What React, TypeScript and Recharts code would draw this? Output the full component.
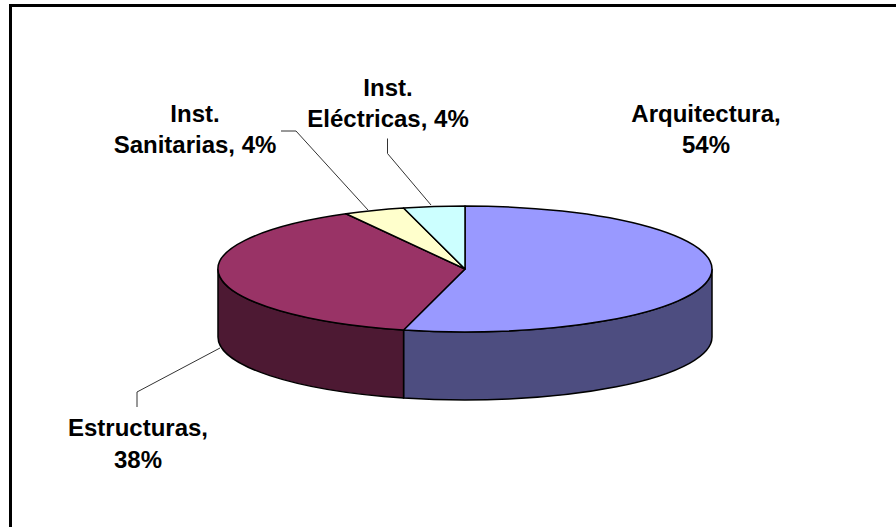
import React from "react";
import { PieChart, Pie, Cell } from "recharts";

const categories = ["Arquitectura", "Estructuras", "Inst. Sanitarias", "Inst. Eléctricas"];
const shares = [54, 38, 4, 4];
const topColors = ["#9999FF", "#993366", "#FFFFCC", "#CCFFFF"];
const sideColors = ["#4D4D80", "#4D1933", "#808066", "#668080"];

const chartData = categories.map((name, i) => ({ name, value: shares[i] }));

// the disc is a circle in Recharts terms, squashed here into an ellipse
const TILT = 63 / 247;
const DEPTH = 68;
const RAD = Math.PI / 180;

const LABEL_FONT = "'Liberation Sans', Arial, sans-serif";

// text lines and leader elbows for each slice
const labelLayout = [
  { x: 706, y: [122, 153], lines: ["Arquitectura,", "54%"], leader: null },
  { x: 138, y: [436, 468], lines: ["Estructuras,", "38%"], leader: "M220 348 L137 392 L137 407" },
  { x: 195, y: [122, 153], lines: ["Inst.", "Sanitarias, 4%"], leader: "M368 210 L296 131 L281 131" },
  { x: 388, y: [96, 127], lines: ["Inst.", "Eléctricas, 4%"], leader: "M431 205 L387.5 153.5 L387.5 138.5" },
];

function Slice3D(props: any) {
  const { cx, cy, outerRadius: r, startAngle, endAngle, fill, index } = props;
  const ry = r * TILT;
  const px = (a: number) => cx + r * Math.cos(a * RAD);
  const py = (a: number) => cy - ry * Math.sin(a * RAD);
  const sweep = Math.abs(endAngle - startAngle);
  const large = sweep > 180 ? 1 : 0;

  // the wall only shows along the front half, angles 180..360 in math terms
  const lo = Math.min(startAngle, endAngle);
  const hi = Math.max(startAngle, endAngle);
  const wallFrom = Math.max(lo, -180);
  const wallTo = Math.min(hi, 0);
  const wall =
    wallTo > wallFrom
      ? `M${px(wallFrom)} ${py(wallFrom)} A${r} ${ry} 0 0 0 ${px(wallTo)} ${py(wallTo)} ` +
        `L${px(wallTo)} ${py(wallTo) + DEPTH} A${r} ${ry} 0 0 1 ${px(wallFrom)} ${py(wallFrom) + DEPTH} Z`
      : null;

  const top =
    `M${cx} ${cy} L${px(startAngle)} ${py(startAngle)} ` +
    `A${r} ${ry} 0 ${large} 1 ${px(endAngle)} ${py(endAngle)} Z`;

  return (
    <g>
      {wall && <path d={wall} fill={sideColors[index]} stroke="#000" strokeWidth={1.5} />}
      <path d={top} fill={fill} stroke="#000" strokeWidth={1.5} strokeLinejoin="round" />
    </g>
  );
}

function SliceLabel({ index }: any) {
  const item = labelLayout[index];
  return (
    <g>
      {item.lines.map((line, i) => (
        <text
          key={line}
          x={item.x}
          y={item.y[i]}
          textAnchor="middle"
          fontFamily={LABEL_FONT}
          fontWeight={700}
          fontSize={24}
          fill="#000"
        >
          {line}
        </text>
      ))}
    </g>
  );
}

function LeaderLine({ index }: any) {
  const d = labelLayout[index].leader;
  return d ? <path d={d} fill="none" stroke="#333" strokeWidth={1} /> : <g />;
}

export default function App() {
  return (
    <div
      style={{
        position: "absolute",
        left: 0,
        top: 0,
        width: 896,
        height: 527,
        background: "#fff",
        overflow: "hidden",
      }}
    >
      {/* frame runs off the right and bottom edges */}
      <div
        style={{
          position: "absolute",
          left: 9,
          top: 4,
          width: 920,
          height: 560,
          borderLeft: "3px solid #000",
          borderTop: "3px solid #000",
          boxSizing: "border-box",
        }}
      />
      <PieChart
        width={896}
        height={527}
        margin={{ top: 0, right: 0, bottom: 0, left: 0 }}
        style={{ position: "absolute", left: 0, top: 0 }}
      >
        <Pie
          data={chartData}
          dataKey="value"
          nameKey="name"
          cx={465}
          cy={269}
          outerRadius={247}
          startAngle={90}
          endAngle={-270}
          isAnimationActive={false}
          shape={Slice3D}
          label={SliceLabel}
          labelLine={LeaderLine}
        >
          {categories.map((name, i) => (
            <Cell key={name} fill={topColors[i]} />
          ))}
        </Pie>
      </PieChart>
    </div>
  );
}
